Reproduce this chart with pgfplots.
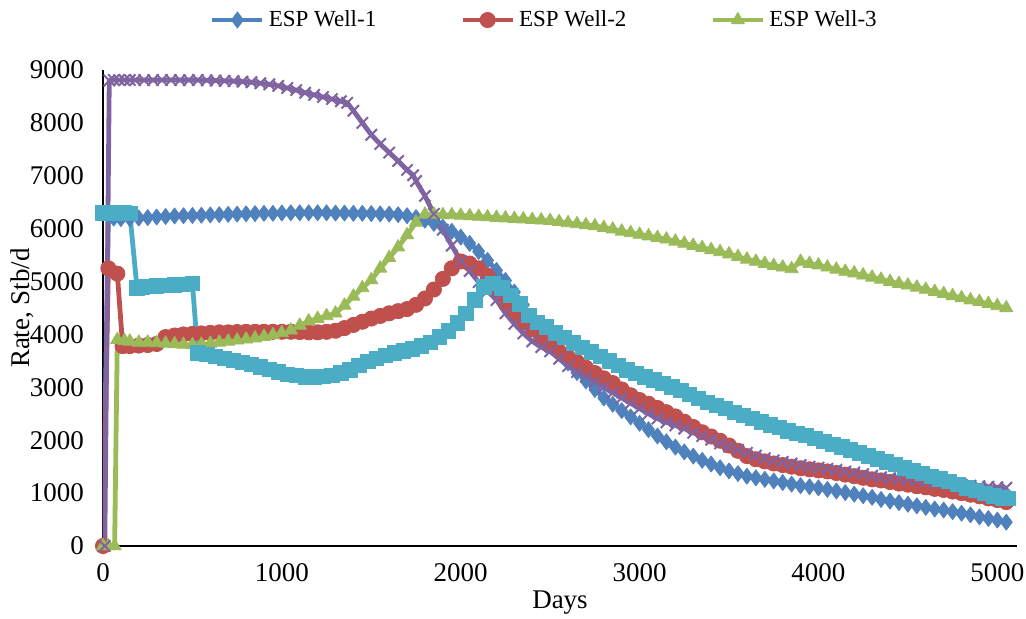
\documentclass[border=0pt]{standalone}
\usepackage{fontspec}
\setmainfont{Liberation Serif}
\usepackage{pgfplots}
\pgfplotsset{compat=1.18}
\definecolor{cA}{HTML}{4F81BD}
\definecolor{cB}{HTML}{C0504D}
\definecolor{cC}{HTML}{9BBB59}
\definecolor{cD}{HTML}{8064A2}
\definecolor{cE}{HTML}{4BACC6}
\begin{document}
\begin{tikzpicture}
\path[use as bounding box] (-51.5pt,-36.5pt) rectangle (461.5pt,273pt);
\begin{axis}[
  scale only axis, width=457pt, height=238pt,
  xmin=0, xmax=5110, ymin=0, ymax=9000,
  axis x line=bottom, axis y line=left,
  axis line style={-, black, line width=1pt},
  xtick={0,1000,...,5000}, ytick={0,1000,...,9000},
  major tick length=0pt,
  /pgf/number format/assume math mode=true,
  /pgf/number format/1000 sep={},
  tick label style={font=\fontsize{13.5}{16}\selectfont},
  yticklabel style={xshift=-6pt},
  xticklabel style={yshift=-5pt},
  xlabel={Days}, ylabel={Rate, Stb/d},
  label style={font=\fontsize{13.5}{16}\selectfont},
  xlabel style={at={(axis description cs:0.5,-0.1197)}, anchor=center},
  ylabel style={at={(axis description cs:-0.0886,0.5)}, anchor=center},
  legend columns=3,
  legend style={at={(0.484,1.105)}, anchor=center, draw=none, fill=none,
    font=\fontsize{11.5}{14}\selectfont,
    /tikz/every even column/.append style={column sep=40pt}},
  legend image code/.code={\draw[mark repeat=2,mark phase=2] plot coordinates {(0pt,0pt) (12.5pt,0pt) (25pt,0pt)};},
  every axis plot/.append style={line width=2.4pt, line join=round},
]
\addplot[cA, mark=diamond*, mark size=4pt, mark options={solid, line width=0.4pt, fill=cA}] coordinates {
(0,0) (30,6250) (60,6200) (100,6190) (150,6190) (200,6200) (250,6210) (300,6220) (350,6230) (400,6240)
(450,6245) (500,6250) (550,6255) (600,6260) (650,6265) (700,6270) (750,6275) (800,6280) (850,6285) (900,6290)
(950,6290) (1000,6295) (1050,6300) (1100,6300) (1150,6300) (1200,6300) (1250,6300) (1300,6295) (1350,6295) (1400,6290)
(1450,6290) (1500,6285) (1550,6280) (1600,6275) (1650,6265) (1700,6245) (1750,6210) (1800,6160) (1850,6100) (1900,6030)
(1950,5950) (2000,5840) (2050,5720) (2100,5570) (2150,5400) (2200,5210) (2250,5020) (2300,4800) (2350,4560) (2400,4300)
(2450,4060) (2500,3850) (2550,3650) (2600,3460) (2650,3280) (2700,3120) (2750,2960) (2800,2800) (2850,2680) (2900,2560)
(2950,2440) (3000,2320) (3050,2200) (3100,2080) (3150,1970) (3200,1870) (3250,1780) (3300,1700) (3350,1620) (3400,1550)
(3450,1480) (3500,1420) (3550,1370) (3600,1320) (3650,1290) (3700,1260) (3750,1230) (3800,1200) (3850,1170) (3900,1140)
(3950,1120) (4000,1100) (4050,1070) (4100,1040) (4150,1010) (4200,980) (4250,950) (4300,920) (4350,880) (4400,850)
(4450,820) (4500,790) (4550,760) (4600,730) (4650,700) (4700,680) (4750,650) (4800,620) (4850,590) (4900,550)
(4950,520) (5000,490) (5050,450)
};
\addlegendentry{ESP Well-1}
\addplot[cB, mark=*, mark size=3.8pt, mark options={solid, line width=0.4pt, fill=cB}] coordinates {
(0,0) (30,5250) (80,5150) (110,3780) (150,3780) (200,3790) (250,3800) (300,3820) (350,3950) (400,3980)
(450,4000) (500,4010) (550,4020) (600,4030) (650,4040) (700,4040) (750,4045) (800,4050) (850,4050) (900,4050)
(950,4050) (1000,4050) (1050,4050) (1100,4045) (1150,4040) (1200,4040) (1250,4050) (1300,4070) (1350,4120) (1400,4180)
(1450,4240) (1500,4300) (1550,4350) (1600,4400) (1650,4440) (1700,4480) (1750,4560) (1800,4680) (1850,4850) (1900,5050)
(1950,5250) (2000,5380) (2050,5340) (2100,5250) (2150,5110) (2200,4850) (2250,4600) (2300,4400) (2350,4230) (2400,4100)
(2450,3950) (2500,3800) (2550,3680) (2600,3570) (2650,3480) (2700,3370) (2750,3270) (2800,3170) (2850,3080) (2900,2960)
(2950,2850) (3000,2760) (3050,2690) (3100,2610) (3150,2530) (3200,2450) (3250,2350) (3300,2250) (3350,2150) (3400,2070)
(3450,1990) (3500,1900) (3550,1800) (3600,1700) (3650,1640) (3700,1600) (3750,1560) (3800,1530) (3850,1500) (3900,1470)
(3950,1450) (4000,1430) (4050,1410) (4100,1380) (4150,1350) (4200,1320) (4250,1290) (4300,1260) (4350,1240) (4400,1210)
(4450,1180) (4500,1160) (4550,1130) (4600,1110) (4650,1080) (4700,1060) (4750,1030) (4800,1000) (4850,970) (4900,940)
(4950,900) (5000,870) (5050,830)
};
\addlegendentry{ESP Well-2}
\addplot[cC, mark=triangle*, mark size=3.8pt, mark options={solid, line width=0.4pt, fill=cC}] coordinates {
(0,0) (30,0) (65,0) (80,3900) (120,3880) (150,3870) (200,3850) (250,3850) (300,3840) (350,3830) (400,3820)
(450,3810) (500,3800) (550,3810) (600,3830) (650,3850) (700,3870) (750,3890) (800,3910) (850,3930) (900,3960)
(950,3990) (1000,4030) (1050,4080) (1100,4170) (1150,4250) (1200,4300) (1250,4350) (1300,4400) (1350,4550) (1400,4720)
(1450,4880) (1500,5030) (1550,5250) (1600,5450) (1650,5650) (1700,5880) (1750,6120) (1800,6270) (1850,6270) (1900,6260)
(1950,6260) (2000,6250) (2050,6240) (2100,6230) (2150,6220) (2200,6210) (2250,6200) (2300,6190) (2350,6180) (2400,6170)
(2450,6160) (2500,6150) (2550,6130) (2600,6110) (2650,6090) (2700,6070) (2750,6050) (2800,6020) (2850,5990) (2900,5950)
(2950,5920) (3000,5890) (3050,5860) (3100,5830) (3150,5800) (3200,5760) (3250,5720) (3300,5680) (3350,5640) (3400,5600)
(3450,5560) (3500,5520) (3550,5470) (3600,5420) (3650,5380) (3700,5340) (3750,5300) (3800,5270) (3850,5240) (3900,5380)
(3950,5340) (4000,5310) (4050,5270) (4100,5230) (4150,5190) (4200,5160) (4250,5120) (4300,5080) (4350,5040) (4400,5000)
(4450,4960) (4500,4930) (4550,4890) (4600,4850) (4650,4810) (4700,4770) (4750,4730) (4800,4690) (4850,4650) (4900,4620)
(4950,4580) (5000,4540) (5050,4500)
};
\addlegendentry{ESP Well-3}
\addplot[cD, forget plot, mark=x, mark size=4pt, mark options={solid, line width=1pt}] coordinates {
(10,0) (35,8800) (60,8810) (90,8810) (120,8810) (150,8810) (180,8810) (230,8810) (280,8810) (330,8810)
(380,8810) (430,8810) (480,8810) (530,8810) (580,8805) (630,8800) (680,8795) (730,8790) (780,8780) (830,8770)
(880,8750) (930,8730) (980,8700) (1030,8660) (1080,8620) (1130,8570) (1180,8530) (1230,8490) (1280,8450) (1330,8410)
(1365,8380) (1400,8230) (1450,8000) (1500,7775) (1550,7600) (1600,7440) (1650,7280) (1700,7110) (1734,7010) (1750,6900)
(1800,6620) (1850,6280) (1900,5980) (1950,5680) (2000,5390) (2050,5200) (2100,4990) (2150,4820) (2200,4650) (2250,4400)
(2300,4200) (2350,4020) (2400,3870) (2450,3760) (2500,3680) (2550,3540) (2600,3400) (2650,3290) (2700,3200) (2750,3100)
(2800,3000) (2850,2900) (2900,2800) (2950,2700) (3000,2600) (3050,2500) (3100,2410) (3150,2340) (3200,2280) (3250,2220)
(3300,2140) (3350,2080) (3400,2010) (3450,1940) (3500,1880) (3550,1820) (3600,1760) (3650,1710) (3700,1660) (3750,1620)
(3800,1590) (3850,1560) (3900,1530) (3950,1500) (4000,1480) (4050,1460) (4100,1440) (4150,1410) (4200,1390) (4250,1360)
(4300,1330) (4350,1300) (4400,1280) (4450,1270) (4500,1250) (4550,1240) (4600,1220) (4650,1200) (4700,1190) (4750,1170)
(4800,1160) (4850,1140) (4900,1130) (4950,1120) (5000,1110) (5050,1100)
};
\addplot[cE, forget plot, mark=square*, mark size=3.6pt, mark options={solid, line width=0.4pt, fill=cE}] coordinates {
(0,6300) (30,6300) (60,6300) (90,6300) (120,6300) (150,6290) (190,4880) (220,4900) (250,4910) (300,4920)
(350,4930) (400,4940) (450,4950) (500,4960) (530,3650) (580,3620) (630,3590) (680,3550) (730,3510) (780,3470)
(830,3430) (880,3390) (930,3340) (980,3290) (1030,3250) (1080,3220) (1130,3200) (1180,3200) (1230,3210) (1280,3230)
(1330,3270) (1380,3330) (1430,3410) (1480,3490) (1530,3550) (1580,3600) (1630,3650) (1680,3690) (1730,3730) (1780,3780)
(1830,3850) (1880,3950) (1930,4070) (1980,4220) (2030,4400) (2080,4650) (2130,4900) (2180,4970) (2230,4880) (2280,4740)
(2330,4580) (2380,4360) (2430,4230) (2480,4140) (2530,4030) (2580,3940) (2630,3840) (2680,3750) (2730,3670) (2780,3590)
(2830,3500) (2880,3410) (2930,3330) (2980,3260) (3030,3200) (3080,3140) (3130,3080) (3180,3010) (3230,2940) (3280,2870)
(3330,2790) (3380,2720) (3430,2660) (3480,2600) (3530,2530) (3580,2470) (3630,2410) (3680,2350) (3730,2290) (3780,2240)
(3830,2180) (3880,2130) (3930,2090) (3980,2040) (4030,1980) (4080,1920) (4130,1870) (4180,1820) (4230,1760) (4280,1700)
(4330,1650) (4380,1590) (4430,1540) (4480,1480) (4530,1420) (4580,1370) (4630,1320) (4680,1270) (4730,1220) (4780,1160)
(4830,1100) (4880,1050) (4930,990) (4980,950) (5030,910) (5060,900)
};
\end{axis}
\end{tikzpicture}
\end{document}
